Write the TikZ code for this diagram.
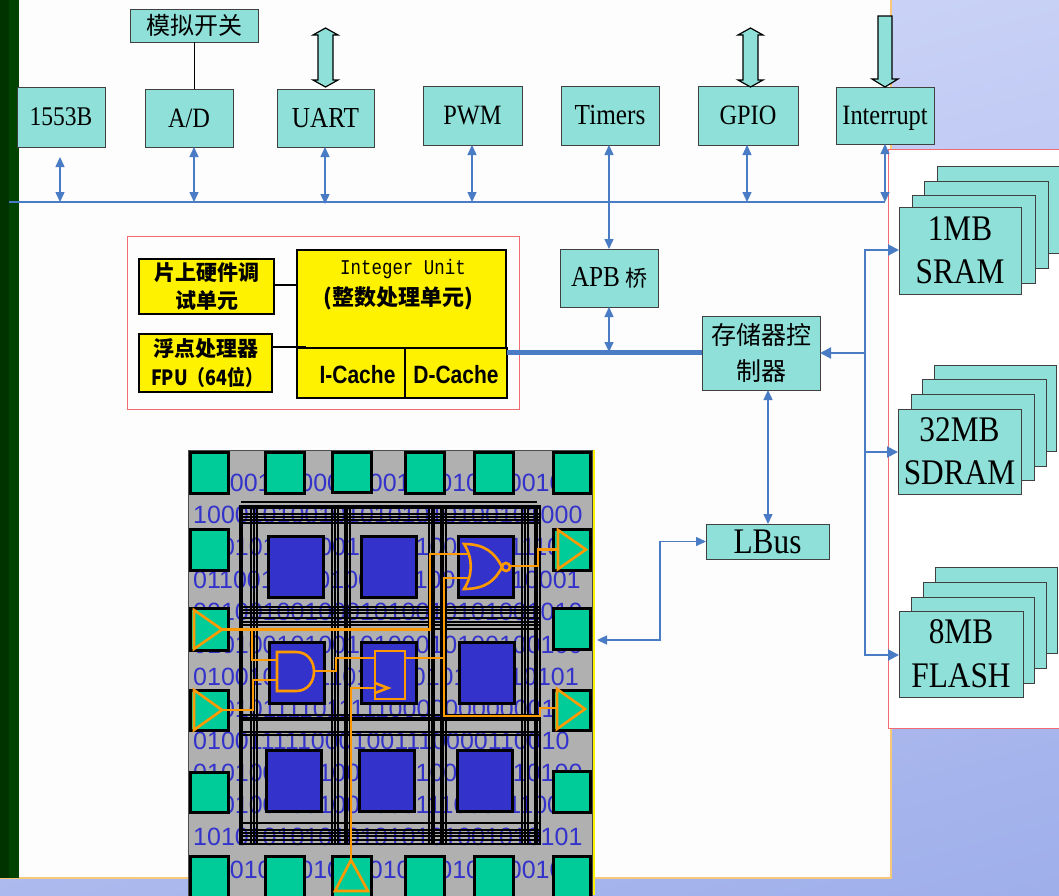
\documentclass[tikz,border=0pt]{standalone}
\usepackage{fontspec}
\setmainfont[FakeStretch=0.87]{Liberation Serif}
\newfontfamily\cjk{Noto Sans CJK SC}
\newfontfamily\cjkn[FakeStretch=0.85]{Noto Sans CJK SC}
\newfontfamily\digitfont{Liberation Sans}
\newfontfamily\cachef[FakeStretch=0.84]{Liberation Sans}
\newfontfamily\monof[FakeStretch=0.83]{Liberation Mono}
\usetikzlibrary{arrows.meta,calc}
\definecolor{teal1}{HTML}{8EE0D8}
\definecolor{bluel}{HTML}{4A7CC6}
\definecolor{redl}{HTML}{F26A72}
\definecolor{chipg}{HTML}{B0B0B0}
\definecolor{padg}{HTML}{00CC99}
\definecolor{coreb}{HTML}{3333CC}
\definecolor{wire}{HTML}{FF9900}
\definecolor{panelb}{HTML}{F7C878}
\definecolor{bgtop}{HTML}{D4DAF9}
\definecolor{bgbot}{HTML}{9FAFEA}
\definecolor{panelw}{HTML}{FDFDFD}
\definecolor{greend}{HTML}{003300}
\definecolor{greenm}{HTML}{004400}
\tikzset{
 tbox/.style={draw=black!75,line width=1pt,fill=teal1,inner sep=0pt,outer sep=0pt,align=center,text=black},
 ybox/.style={draw=black,line width=1.3pt,fill=yellow,inner sep=0pt,outer sep=0pt,align=center,text=black},
 link/.style={draw=bluel,line width=1.4pt,{Triangle[length=10pt,width=9pt]}-{Triangle[length=10pt,width=9pt]}},
 linkend/.style={draw=bluel,line width=2pt,-{Triangle[length=11pt,width=11pt]}},
 blockar/.style={draw=black,line width=1.2pt,fill=teal1},
 pad/.style={draw=black,line width=3pt,fill=padg,inner sep=0pt,outer sep=0pt},
 core/.style={draw=black,line width=3pt,fill=coreb,inner sep=0pt,outer sep=0pt},
 gridw/.style={draw=black,line width=1.8pt},
 wirel/.style={draw=wire,line width=2.6pt,line join=miter},
 bits/.style={text=coreb,inner sep=0pt,anchor=west,font=\digitfont\fontsize{25}{25}\selectfont},
}
\newcommand{\bx}[7][tbox]{\node[#1,minimum width={(#5-#3)*1pt},minimum height={(#6-#4)*1pt}] (#2) at ({(#3+#5)/2},{(#4+#6)/2}) {#7};}
\newcommand{\fz}[1]{\fontsize{#1}{#1}\selectfont}
\begin{document}
\begin{tikzpicture}[x=1pt,y=-1pt]
\useasboundingbox (0,0) rectangle (1059,895);
% background
\shade[top color=bgtop,bottom color=bgbot,shading angle=15] (-100,-100) rectangle (1159,995);
\fill[panelw] (19,0) rectangle (891,878);
\draw[panelb,line width=2pt] (891,0) -- (891,878) -- (0,878);
\fill[greend] (0,0) rectangle (9,878);
\fill[greenm] (9,0) rectangle (19,878);
% right red frame
\draw[redl,line width=1pt,fill=white] (1062,149) -- (888,149) -- (888,728) -- (1062,728);
% bus
\coordinate (busL) at (9,202);
\coordinate (busR) at (885,202);
\draw[bluel,line width=1.6pt] (busL) -- (busR);
% peripherals
\bx{usb}{17}{87}{105}{147}{\fz{27}1553B}
\bx{ad}{145}{89}{233}{147}{\fz{28}A/D}
\bx{uart}{277}{89}{374}{147}{\fz{29}UART}
\bx{pwm}{423}{86}{522}{145}{\fz{28}PWM}
\bx{tim}{561}{86}{659}{145}{\fz{29}Timers}
\bx{gpio}{698}{86}{798}{145}{\fz{28}GPIO}
\bx{irq}{836}{87}{934}{144}{\raisebox{-9pt}[12pt][12pt]{\fz{28}Interrupt}}
\bx{sw}{130}{9}{258}{42}{\cjk\fz{24}模拟开关}
\coordinate (adx) at (194,0);
\coordinate (uax) at (325,0);
\coordinate (pwx) at (472,0);
\draw[black,line width=0.9pt] (sw.south -| adx) -- (ad.north -| adx);
% block arrows
\draw[blockar] (325.5,28) -- (338,35) -- (333,35) -- (333,80) -- (338,80) -- (325.5,87) -- (313,80) -- (318,80) -- (318,35) -- (313,35) -- cycle;
\draw[blockar] (750.5,28) -- (763,35) -- (758,35) -- (758,80) -- (763,80) -- (750.5,87) -- (738,80) -- (743,80) -- (743,35) -- (738,35) -- cycle;
\draw[blockar] (878,16) -- (892,16) -- (892,79) -- (898,79) -- (885,87) -- (872,79) -- (878,79) -- cycle;
% bus links
\coordinate (usbT) at (60,157);
\draw[link] (usbT) -- (usbT |- busL);
\draw[link] (ad.south -| adx) -- (adx |- busL);
\draw[link] (uart.south -| uax) -- ($(uax |- busL)+(0,2)$);
\draw[link] (pwm.south -| pwx) -- (pwx |- busL);
\draw[link] (gpio.south -| 747,0) -- (747,202);
\draw[link] (irq.south -| busR) -- (busR);
% APB
\bx{apb}{560}{249}{658}{307}{\fz{29}APB{\cjk\fz{22} 桥}}
\draw[link] (tim.south -| 609,0) -- (apb.north -| 609,0);
% CPU frame
\draw[redl,line width=1pt] (127,236) rectangle (519,409);
\bx[ybox]{iu}{297}{250}{506}{348}{}
\node[anchor=center,font=\monof\fz{21}] (iut) at (403,269) {Integer Unit};
\node[anchor=center,font=\cjk\bfseries\fz{22}] (iuc) at (398,298) {(整数处理单元)};
\bx[ybox]{ic}{297}{348}{405}{398}{\raisebox{-10pt}[10pt][10pt]{\bfseries\cachef\fz{25}\hspace*{13pt}I-Cache}}
\bx[ybox]{dc}{405}{348}{507}{398}{\raisebox{-10pt}[10pt][10pt]{\bfseries\cachef\fz{25}D-Cache}}
\bx[ybox]{dbg}{139}{259}{274}{314}{\cjk\bfseries\fz{21}片上硬件调\\[7pt]\cjk\bfseries\fz{21}试单元}
\bx[ybox]{fpu}{139}{334}{272}{392}{\cjk\bfseries\fz{21}浮点处理器\\[7pt]\cjkn\bfseries\fz{21}\hspace*{3pt}FPU（64位）}
\draw[black,line width=2.6pt] (dbg.east |- 0,285) -- (iu.west |- 0,285);
\draw[black,line width=2.6pt] (fpu.east |- 0,347) -- (306,347);
% memory controller
\bx{mc}{702}{316}{820}{390}{\cjk\fz{25}存储器控\\[13pt]\cjk\fz{25}制器}
\coordinate (dcE) at (507,352);
\draw[bluel,line width=5pt] (dcE) -- (dcE -| mc.west);
\coordinate (apbJ) at (609,352);
\draw[link] (apb.south -| apbJ) -- (apbJ);
% memory stacks
\bx{s4}{937}{166}{1070}{253}{}
\bx{s3}{924}{181}{1048}{268}{}
\bx{s2}{912}{195}{1035}{283}{}
\bx{s1}{899}{207}{1021}{294}{\fz{36}1MB\\[18pt]\fz{36}SRAM}
\bx{d4}{934}{365}{1056}{451}{}
\bx{d3}{922}{379}{1046}{466}{}
\bx{d2}{911}{394}{1034}{480}{}
\bx{d1}{898}{409}{1021}{494}{\fz{36}32MB\\[18pt]\fz{36}SDRAM}
\bx{f4}{935}{567}{1057}{653}{}
\bx{f3}{923}{582}{1046}{668}{}
\bx{f2}{911}{597}{1034}{683}{}
\bx{f1}{899}{611}{1023}{697}{\fz{36}8MB\\[19pt]\fz{36}FLASH}
\coordinate (mj) at (865,353);
\draw[linkend] (mj) -- (mc.east);
\draw[linkend] (mj) |- (s1.west |- 0,250);
\draw[linkend] (mj) |- (d1.west |- 0,452);
\draw[linkend] (mj) |- (f1.west |- 0,655);
% LBus
\bx{lb}{706}{524}{829}{559}{\fz{36}LBus}
\draw[link] (lb.north -| 768,0) -- (mc.south -| 768,0);
% chip
\fill[yellow] (592,450) rectangle (595,895);
\draw[black!70,line width=1pt,fill=chipg] (188,450) rectangle (592,897);
\node[bits] (b01) at (188,483) {1010010000010001000101000100};
\node[bits] (b02) at (193,515) {1000101001010101010100101000};
\node[bits] (b03) at (193,547) {1001010010010100100111011100};
\node[bits] (b04) at (193,580) {0110010100100100100100010001};
\node[bits] (b05) at (193,612) {0010010010001010010101001010};
\node[bits] (b06) at (193,645) {0101001010010100010100100100};
\node[bits] (b07) at (193,677) {0100101101101001010101010101};
\node[bits] (b08) at (193,709) {1001011110111110000000000011};
\node[bits] (b09) at (193,741) {0100111110001001110000110010};
\node[bits] (b10) at (193,773) {0101001001000100100101010100};
\node[bits] (b11) at (193,805) {0001001001001000111000111001};
\node[bits] (b12) at (193,837) {1010101010101010101001010101};
\node[bits] (b13) at (188,870) {1010100001010010000101000100};
% routing grid
\draw[gridw] (241,502) -- (537,502);
\foreach \yy in {506,508,514,517,520,523,607,610,613,618,622,625,629,715,718,720,732,735,823,830,833,836,840,844}
  \draw[gridw] (240,\yy) -- (540,\yy);
\foreach \xx in {240,242,251,254,257,332,335,338,345,347,350,429,432,434,441,443,446,522,525,528,535,537,540}
  \draw[gridw] (\xx,505) -- (\xx,845);
% pads
\foreach \n/\a/\b/\c/\d in {
 t1/190/452/228/493,t2/265/452/304/493,t3/332/452/371/492,t4/405/452/444/493,t5/474/452/513/493,t6/553/452/590/493,
 l1/190/529/228/570,l2/190/608/228/650,l3/190/690/228/730,l4/190/772/228/812,
 r1/553/529/590/570,r2/553/608/590/649,r3/553/690/590/730,r4/553/771/590/812,
 b1/190/856/228/898,b2/265/856/304/898,b3/332/856/371/898,b4/405/856/444/898,b5/474/856/513/898,b6/553/856/590/898}
  {\bx[pad]{\n}{\a}{\b}{\c}{\d}{}}
% core blocks
\foreach \n/\a/\b in {c1/268/536,c2/361/536,c3/458/536,c4/269/642,c5/361/642,c6/459/642,c7/266/750,c8/359/750,c9/457/750}
  {\pgfmathsetmacro{\cc}{\a+55}\pgfmathsetmacro{\dd}{\b+61}\bx[core]{\n}{\a}{\b}{\cc}{\dd}{}}
% link chip to LBus
\coordinate (chipE) at (597,640);
\coordinate (lbk) at (660,640);
\draw[link] (lb.west) -| (lbk) -- (chipE);
% logic
\begin{scope}[wirel]
 \draw (194,610) -- (222,629.5) -- (194,649) -- cycle;
 \draw (194,690) -- (222,710) -- (194,730) -- cycle;
 \draw (558,530) -- (586,549.5) -- (558,569) -- cycle;
 \draw (557,689) -- (585,709) -- (557,729) -- cycle;
 \draw (351,860) -- (368,891) -- (335,891) -- cycle;
 % wires
 \draw (222,629.5) -- (430,629.5) -- (430,554) -- (470,554);
 \draw (252,629.5) -- (252,660) -- (277,660);
 \draw (222,710) -- (253,710) -- (253,680) -- (277,680);
 \draw (315,671) -- (336,671) -- (336,658) -- (375,658);
 \draw (405,658) -- (444,658);
 \draw (468,578) -- (444,578) -- (444,716) -- (540,716) -- (540,708) -- (557,708);
 \draw (351,860) -- (351,688) -- (375,688);
 \draw (510,566) -- (538,566) -- (538,549.5) -- (558,549.5);
 % AND
 \draw (277,652) -- (296,652) .. controls (320,652) and (320,691) .. (296,691) -- (277,691) -- cycle;
 % DFF
 \draw (375,651) rectangle (405,699);
 \draw (375,683) -- (388,688) -- (375,693);
 % NOR
 \draw (464,544) .. controls (485,544) and (495,553) .. (502,567) .. controls (495,581) and (485,589) .. (464,589) .. controls (473,575) and (473,558) .. (464,544) -- cycle;
 \draw (506,567) circle[radius=4];
\end{scope}
\end{tikzpicture}
\end{document}
